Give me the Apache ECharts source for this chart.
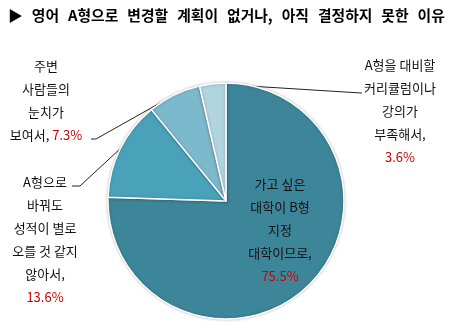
<!DOCTYPE html>
<html>
<head>
<meta charset="utf-8">
<script src="https://cdn.jsdelivr.net/npm/echarts@6/dist/echarts.min.js"></script>
<style>
  html, body { margin: 0; padding: 0; background: #fff; }
  #chart { width: 451px; height: 328px; }
</style>
</head>
<body>
<div id="chart"></div>
<script>
// Survey: reasons for not switching to English type A (or being undecided)
const titleWords = ['▶', '영어', 'A형으로', '변경할', '계획이', '없거나,', '아직', '결정하지', '못한', '이유'];
const categories = [
  '가고 싶은\n대학이 B형\n지정\n대학이므로,',
  'A형으로\n바꿔도\n성적이 별로\n오를 것 같지\n않아서,',
  '주변\n사람들의\n눈치가\n보여서,',
  'A형을 대비할\n커리큘럼이나\n강의가\n부족해서,'
];
const values = [75.5, 13.6, 7.3, 3.6];
// whether the percentage sits on the last text line or on its own line
const percentInline = [false, false, true, false];

// layout: label block anchor (centre x, top y) and leader-line bends
const sliceColors = ['#3d8599', '#4aa2ba', '#7cb9cd', '#b0d4e0'];
const labelAnchors = [[280, 173], [45, 171], [46, 55], [400, 54]];
const leaderBends = [null, [[80, 186], [72, 186]], [[96, 139], [91, 139]], [[361, 93], [362, 93]]];
const LABEL_BOX = 96;

const FONT = '"Noto Sans CJK KR", "Noto Sans", sans-serif';

function labelText(i) {
  const pct = '{p|' + values[i].toFixed(1) + '%}';
  return categories[i] + (percentInline[i] ? ' ' : '\n') + pct;
}

const chart = echarts.init(document.getElementById('chart'), null, { renderer: 'canvas' });

chart.setOption({
  animation: false,
  title: {
    // words as rich tokens so the word gaps can be sized
    text: titleWords.map(w => '{w|' + w + '}').join('{s| }'),
    left: 3,
    top: 3,
    textStyle: {
      rich: {
        w: { fontFamily: FONT, fontSize: 14.8, fontWeight: 'bold', color: '#000' },
        s: { fontFamily: FONT, fontSize: 14.8, width: 9 }
      }
    }
  },
  series: [{
    type: 'pie',
    center: [226, 201],
    radius: 118,
    startAngle: 90,
    clockwise: true,
    avoidLabelOverlap: false,
    itemStyle: {
      borderColor: '#fff',
      borderWidth: 1.5,
      shadowBlur: 3,
      shadowColor: 'rgba(0,0,0,0.25)'
    },
    label: {
      show: true,
      position: 'outside',
      alignTo: 'none',
      align: 'center',
      width: LABEL_BOX,
      overflow: 'none',
      fontFamily: FONT,
      fontSize: 13,
      lineHeight: 23,
      color: '#111',
      formatter: p => labelText(p.dataIndex),
      rich: {
        p: { fontFamily: FONT, fontSize: 13, color: '#d00000', lineHeight: 23 }
      }
    },
    labelLine: {
      show: true,
      lineStyle: { color: '#222', width: 1 }
    },
    labelLayout: function (params) {
      const i = params.dataIndex;
      const a = labelAnchors[i];
      const out = { x: a[0], y: a[1], align: 'center', verticalAlign: 'top' };
      if (leaderBends[i] && params.labelLinePoints) {
        out.labelLinePoints = [params.labelLinePoints[0], leaderBends[i][0], leaderBends[i][1]];
      }
      return out;
    },
    emphasis: { disabled: true },
    data: values.map((v, i) => ({
      name: categories[i],
      value: v,
      itemStyle: { color: sliceColors[i] },
      labelLine: { show: i !== 0 }
    }))
  }]
});
</script>
</body>
</html>
